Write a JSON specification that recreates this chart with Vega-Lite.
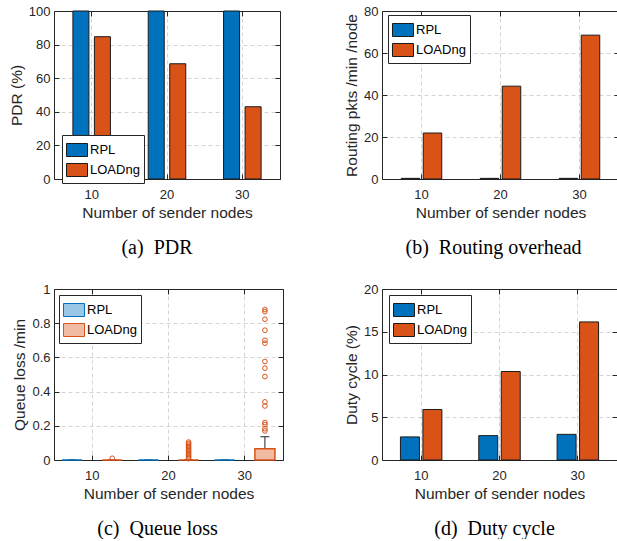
{
  "$schema": "https://vega.github.io/schema/vega-lite/v6.json",
  "background": "white",
  "padding": {"left": 9, "top": 5, "right": 0, "bottom": 0},
  "datasets": {
    "pdr": [
      {"nodes": 10, "protocol": "RPL", "value": 100},
      {"nodes": 10, "protocol": "LOADng", "value": 84.7},
      {"nodes": 20, "protocol": "RPL", "value": 100},
      {"nodes": 20, "protocol": "LOADng", "value": 68.6},
      {"nodes": 30, "protocol": "RPL", "value": 100},
      {"nodes": 30, "protocol": "LOADng", "value": 43.0}
    ],
    "routing": [
      {"nodes": 10, "protocol": "RPL", "value": 0.3},
      {"nodes": 10, "protocol": "LOADng", "value": 21.9},
      {"nodes": 20, "protocol": "RPL", "value": 0.3},
      {"nodes": 20, "protocol": "LOADng", "value": 44.2},
      {"nodes": 30, "protocol": "RPL", "value": 0.3},
      {"nodes": 30, "protocol": "LOADng", "value": 68.5}
    ],
    "duty": [
      {"nodes": 10, "protocol": "RPL", "value": 2.7},
      {"nodes": 10, "protocol": "LOADng", "value": 5.9},
      {"nodes": 20, "protocol": "RPL", "value": 2.85},
      {"nodes": 20, "protocol": "LOADng", "value": 10.35},
      {"nodes": 30, "protocol": "RPL", "value": 3.0},
      {"nodes": 30, "protocol": "LOADng", "value": 16.15}
    ],
    "qbox": [
      {"nodes": 10, "protocol": "RPL", "q1": 0, "q3": 0, "whisker": 0},
      {"nodes": 10, "protocol": "LOADng", "q1": 0, "q3": 0, "whisker": 0},
      {"nodes": 20, "protocol": "RPL", "q1": 0, "q3": 0, "whisker": 0},
      {"nodes": 20, "protocol": "LOADng", "q1": 0, "q3": 0, "whisker": 0},
      {"nodes": 30, "protocol": "RPL", "q1": 0, "q3": 0, "whisker": 0},
      {"nodes": 30, "protocol": "LOADng", "q1": 0, "q3": 0.066, "whisker": 0.136}
    ],
    "qout": [
      {"nodes": 10, "protocol": "LOADng", "value": 0.01},
      {"nodes": 20, "protocol": "LOADng", "value": 0.105},
      {"nodes": 20, "protocol": "LOADng", "value": 0.097},
      {"nodes": 20, "protocol": "LOADng", "value": 0.088},
      {"nodes": 20, "protocol": "LOADng", "value": 0.08},
      {"nodes": 20, "protocol": "LOADng", "value": 0.072},
      {"nodes": 20, "protocol": "LOADng", "value": 0.064},
      {"nodes": 20, "protocol": "LOADng", "value": 0.056},
      {"nodes": 20, "protocol": "LOADng", "value": 0.048},
      {"nodes": 20, "protocol": "LOADng", "value": 0.04},
      {"nodes": 20, "protocol": "LOADng", "value": 0.032},
      {"nodes": 20, "protocol": "LOADng", "value": 0.024},
      {"nodes": 20, "protocol": "LOADng", "value": 0.016},
      {"nodes": 20, "protocol": "LOADng", "value": 0.008},
      {"nodes": 30, "protocol": "LOADng", "value": 0.88},
      {"nodes": 30, "protocol": "LOADng", "value": 0.868},
      {"nodes": 30, "protocol": "LOADng", "value": 0.823},
      {"nodes": 30, "protocol": "LOADng", "value": 0.759},
      {"nodes": 30, "protocol": "LOADng", "value": 0.7},
      {"nodes": 30, "protocol": "LOADng", "value": 0.683},
      {"nodes": 30, "protocol": "LOADng", "value": 0.576},
      {"nodes": 30, "protocol": "LOADng", "value": 0.537},
      {"nodes": 30, "protocol": "LOADng", "value": 0.488},
      {"nodes": 30, "protocol": "LOADng", "value": 0.34},
      {"nodes": 30, "protocol": "LOADng", "value": 0.316},
      {"nodes": 30, "protocol": "LOADng", "value": 0.219},
      {"nodes": 30, "protocol": "LOADng", "value": 0.207},
      {"nodes": 30, "protocol": "LOADng", "value": 0.183},
      {"nodes": 30, "protocol": "LOADng", "value": 0.17}
    ]
  },
  "columns": 2,
  "align": "none",
  "bounds": "flush",
  "spacing": {"row": 110, "column": 99},
  "concat": [
    {
      "width": 226,
      "height": 168,
      "data": {"name": "pdr"},
      "title": {"text": "(a)\u00a0 PDR", "orient": "bottom", "dx": -10, "offset": 17},
      "layer": [
        {
          "mark": {"type": "bar", "stroke": "#1a1a1a", "strokeWidth": 1},
          "encoding": {
            "x": {"field": "nodes", "type": "ordinal", "scale": {"paddingInner": 0, "paddingOuter": 0}, "axis": {"title": "Number of sender nodes", "labelAngle": 0, "bandPosition": 0.5, "labelPadding": 14}},
            "xOffset": {"field": "protocol", "type": "nominal", "scale": {"domain": ["RPL", "LOADng"], "paddingInner": 0.256, "paddingOuter": 0.878}},
            "y": {"field": "value", "type": "quantitative", "scale": {"domain": [0, 100], "nice": false}, "axis": {"title": "PDR (%)", "values": [0, 20, 40, 60, 80, 100], "labelPadding": 9}},
            "color": {"field": "protocol", "type": "nominal", "scale": {"domain": ["RPL", "LOADng"], "range": ["#0072BD", "#D95319"]}, "legend": {"title": null, "orient": "none", "legendX": 8, "legendY": 124, "direction": "vertical"}}
          }
        },
        {
          "mark": {"type": "point", "opacity": 0},
          "encoding": {
            "x": {"field": "nodes", "type": "ordinal", "axis": {"orient": "top", "labels": false, "title": null, "grid": false, "bandPosition": 0.5}},
            "y": {"field": "value", "type": "quantitative", "axis": {"orient": "right", "labels": false, "title": null, "grid": false, "values": [0, 20, 40, 60, 80, 100]}}
          }
        }
      ],
      "resolve": {"axis": {"x": "independent", "y": "independent"}}
    },
    {
      "width": 237,
      "height": 168,
      "data": {"name": "routing"},
      "title": {"text": "(b)\u00a0 Routing overhead", "orient": "bottom", "dx": -7, "offset": 17},
      "layer": [
        {
          "mark": {"type": "bar", "stroke": "#1a1a1a", "strokeWidth": 1},
          "encoding": {
            "x": {"field": "nodes", "type": "ordinal", "scale": {"paddingInner": 0, "paddingOuter": 0}, "axis": {"title": "Number of sender nodes", "labelAngle": 0, "bandPosition": 0.5, "labelPadding": 14}},
            "xOffset": {"field": "protocol", "type": "nominal", "scale": {"domain": ["RPL", "LOADng"], "paddingInner": 0.16, "paddingOuter": 0.875}},
            "y": {"field": "value", "type": "quantitative", "scale": {"domain": [0, 80], "nice": false}, "axis": {"title": "Routing pkts /min /node", "values": [0, 20, 40, 60, 80], "labelPadding": 9}},
            "color": {"field": "protocol", "type": "nominal", "scale": {"domain": ["RPL", "LOADng"], "range": ["#0072BD", "#D95319"]}, "legend": {"title": null, "orient": "none", "legendX": 6, "legendY": 4, "direction": "vertical"}}
          }
        },
        {
          "mark": {"type": "point", "opacity": 0},
          "encoding": {
            "x": {"field": "nodes", "type": "ordinal", "axis": {"orient": "top", "labels": false, "title": null, "grid": false, "bandPosition": 0.5}},
            "y": {"field": "value", "type": "quantitative", "axis": {"orient": "right", "labels": false, "title": null, "grid": false, "values": [0, 20, 40, 60, 80]}}
          }
        }
      ],
      "resolve": {"axis": {"x": "independent", "y": "independent"}}
    },
    {
      "width": 229,
      "height": 171,
      "title": {"text": "(c)\u00a0 Queue loss", "orient": "bottom", "dx": -11, "offset": 17},
      "layer": [
        {
          "data": {"name": "qbox"},
          "mark": {"type": "rule", "color": "#262626", "strokeWidth": 1},
          "encoding": {
            "x": {"field": "nodes", "type": "ordinal", "scale": {"paddingInner": 0, "paddingOuter": 0}, "axis": {"title": "Number of sender nodes", "labelAngle": 0, "bandPosition": 0.5, "labelPadding": 14}},
            "xOffset": {"field": "protocol", "type": "nominal", "scale": {"domain": ["RPL", "LOADng"], "paddingInner": 0.5, "paddingOuter": 0.2}},
            "y": {"field": "q3", "type": "quantitative", "scale": {"domain": [0, 1], "nice": false}, "axis": {"title": "Queue loss /min", "values": [0, 0.2, 0.4, 0.6, 0.8, 1], "format": "~g", "labelPadding": 9, "labelOverlap": false}},
            "y2": {"field": "whisker"}
          }
        },
        {
          "data": {"name": "qbox"},
          "mark": {"type": "tick", "color": "#262626", "size": 9, "thickness": 1, "opacity": 1},
          "encoding": {
            "x": {"field": "nodes", "type": "ordinal", "axis": null},
            "xOffset": {"field": "protocol", "type": "nominal"},
            "y": {"field": "whisker", "type": "quantitative", "axis": null}
          }
        },
        {
          "data": {"name": "qbox"},
          "mark": {"type": "bar", "strokeWidth": 1.5},
          "encoding": {
            "x": {"field": "nodes", "type": "ordinal", "axis": null},
            "xOffset": {"field": "protocol", "type": "nominal"},
            "y": {"field": "q1", "type": "quantitative", "axis": null},
            "y2": {"field": "q3"},
            "fill": {"field": "protocol", "type": "nominal", "scale": {"domain": ["RPL", "LOADng"], "range": ["#99C7E5", "#F0BAA3"]}, "legend": {"title": null, "orient": "none", "legendX": 5, "legendY": 6, "direction": "vertical"}},
            "stroke": {"field": "protocol", "type": "nominal", "scale": {"domain": ["RPL", "LOADng"], "range": ["#0072BD", "#D95319"]}, "legend": {"title": null, "orient": "none", "legendX": 5, "legendY": 6, "direction": "vertical"}}
          }
        },
        {
          "data": {"name": "qout"},
          "mark": {"type": "point", "shape": "circle", "filled": false, "size": 22, "strokeWidth": 1, "opacity": 1},
          "encoding": {
            "x": {"field": "nodes", "type": "ordinal", "axis": null},
            "xOffset": {"field": "protocol", "type": "nominal"},
            "y": {"field": "value", "type": "quantitative", "axis": null},
            "stroke": {"field": "protocol", "type": "nominal"}
          }
        },
        {
          "data": {"name": "qbox"},
          "mark": {"type": "point", "opacity": 0},
          "encoding": {
            "x": {"field": "nodes", "type": "ordinal", "axis": {"orient": "top", "labels": false, "title": null, "grid": false, "bandPosition": 0.5}},
            "y": {"field": "q1", "type": "quantitative", "axis": {"orient": "right", "labels": false, "title": null, "grid": false, "values": [0, 0.2, 0.4, 0.6, 0.8, 1]}}
          }
        }
      ],
      "resolve": {"axis": {"x": "independent", "y": "independent"}}
    },
    {
      "width": 235,
      "height": 171,
      "data": {"name": "duty"},
      "title": {"text": "(d)\u00a0 Duty cycle", "orient": "bottom", "dx": -5, "offset": 17},
      "layer": [
        {
          "mark": {"type": "bar", "stroke": "#1a1a1a", "strokeWidth": 1},
          "encoding": {
            "x": {"field": "nodes", "type": "ordinal", "scale": {"paddingInner": 0, "paddingOuter": 0}, "axis": {"title": "Number of sender nodes", "labelAngle": 0, "bandPosition": 0.5, "labelPadding": 14}},
            "xOffset": {"field": "protocol", "type": "nominal", "scale": {"domain": ["RPL", "LOADng"], "paddingInner": 0.156, "paddingOuter": 0.82}},
            "y": {"field": "value", "type": "quantitative", "scale": {"domain": [0, 20], "nice": false}, "axis": {"title": "Duty cycle (%)", "values": [0, 5, 10, 15, 20], "labelPadding": 9}},
            "color": {"field": "protocol", "type": "nominal", "scale": {"domain": ["RPL", "LOADng"], "range": ["#0072BD", "#D95319"]}, "legend": {"title": null, "orient": "none", "legendX": 7, "legendY": 6, "direction": "vertical"}}
          }
        },
        {
          "mark": {"type": "point", "opacity": 0},
          "encoding": {
            "x": {"field": "nodes", "type": "ordinal", "axis": {"orient": "top", "labels": false, "title": null, "grid": false, "bandPosition": 0.5}},
            "y": {"field": "value", "type": "quantitative", "axis": {"orient": "right", "labels": false, "title": null, "grid": false, "values": [0, 5, 10, 15, 20]}}
          }
        }
      ],
      "resolve": {"axis": {"x": "independent", "y": "independent"}}
    }
  ],
  "resolve": {
    "scale": {"color": "independent", "fill": "independent", "stroke": "independent", "xOffset": "independent", "x": "independent", "y": "independent"},
    "legend": {"color": "independent", "fill": "independent", "stroke": "independent"}
  },
  "config": {
    "view": {"stroke": null},
    "font": "Liberation Sans",
    "axis": {
      "labelFont": "Liberation Sans", "labelFontSize": 13, "labelColor": "#262626",
      "titleFont": "Liberation Sans", "titleFontSize": 15.5, "titleFontWeight": "normal", "titleColor": "#262626",
      "domainColor": "#262626", "tickColor": "#262626", "tickSize": -5,
      "grid": true, "gridColor": "#d4d4d4", "gridDash": [4, 3],
      "titlePadding": 4, "labelOverlap": false
    },
    "legend": {
      "strokeColor": "#262626", "fillColor": "white", "padding": 4,
      "labelFont": "Liberation Sans", "labelFontSize": 13, "labelColor": "#000000",
      "symbolType": "M-1,-0.62H1V0.62H-1Z", "symbolSize": 441,
      "symbolStrokeWidth": 1, "symbolStrokeColor": "#1a1a1a",
      "rowPadding": -3.5, "labelOffset": 2
    },
    "title": {"font": "Liberation Serif", "fontSize": 20, "fontWeight": "normal", "color": "#000000", "anchor": "middle"}
  }
}
